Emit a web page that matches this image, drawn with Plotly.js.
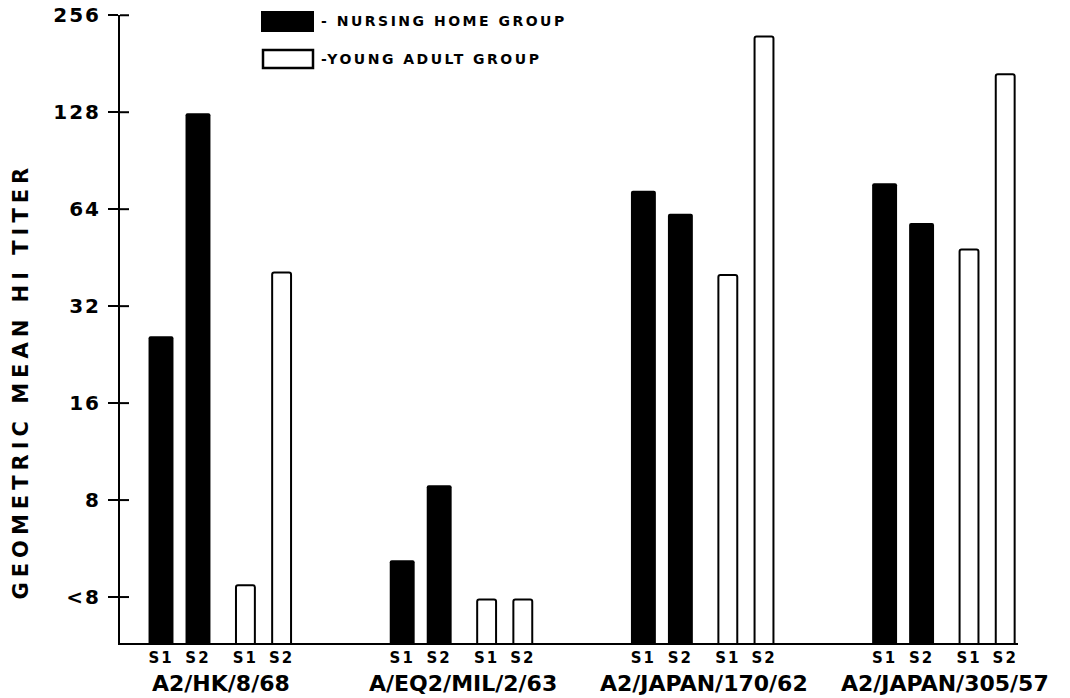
<!DOCTYPE html>
<html>
<head>
<meta charset="utf-8">
<script src="https://cdn.plot.ly/plotly-3.0.1.min.js"></script>
<style>
  html, body { margin: 0; padding: 0; background: #fff; }
  #chart { width: 1070px; height: 698px; }
</style>
</head>
<body>
<div id="chart"></div>
<script>
// ---- data ----
const strains = ['A2/HK/8/68', 'A/EQ2/MIL/2/63', 'A2/JAPAN/170/62', 'A2/JAPAN/305/57'];
const seraLabels = ['S1', 'S2'];
const nursingS1 = [25.8, 5.2, 73, 77];
const nursingS2 = [127, 8.9, 62, 58];
const youngS1 = [4.35, 3.93, 40, 48];
const youngS2 = [40.7, 3.93, 220, 168];
const yTickVals = [4, 8, 16, 32, 64, 128, 256];
const yTickText = ['<8', '8', '16', '32', '64', '128', '256'];
const nursingName = '- NURSING HOME GROUP';
const youngName = '-YOUNG ADULT GROUP';
const yTitle = 'GEOMETRIC MEAN HI TITER';

// ---- layout helpers (positions, not data) ----
const GROUP_SPAN = 6;
const OFF = [0, 0.92, 2.1, 3.0];
const FONT = 'DejaVu Sans, Liberation Sans, sans-serif';

const nX = [], nY = [], yX = [], yY = [];
strains.forEach((s, g) => {
  nX.push(g * GROUP_SPAN + OFF[0], g * GROUP_SPAN + OFF[1]);
  nY.push(nursingS1[g], nursingS2[g]);
  yX.push(g * GROUP_SPAN + OFF[2], g * GROUP_SPAN + OFF[3]);
  yY.push(youngS1[g], youngS2[g]);
});
const tickVals = [], tickText = [];
strains.forEach((s, g) => {
  OFF.forEach((o, i) => { tickVals.push(g * GROUP_SPAN + o); tickText.push(seraLabels[i % 2]); });
});

const traces = [
  { type: 'bar', name: nursingName, x: nX, y: nY, width: 0.62,
    marker: { color: '#000', line: { color: '#000', width: 0 }, cornerradius: 2 },
    hoverinfo: 'skip' },
  { type: 'bar', name: youngName, x: yX, y: yY, width: 0.47,
    marker: { color: '#fff', line: { color: '#000', width: 2 }, cornerradius: 2 },
    hoverinfo: 'skip' }
];

const L = 120, R = 52, T = 15, B = 55, W = 1070, H = 698;
const pw = W - L - R, ph = H - T - B;
const px2x = p => (p - L) / pw;
const py2y = p => (H - B - p) / ph;
const yRange = [Math.log10(2.88), Math.log10(256) + 0.0008];
const v2paper = v => (Math.log10(v) - yRange[0]) / (yRange[1] - yRange[0]);

const shapes = [
  { type: 'rect', xref: 'paper', yref: 'paper', x0: px2x(262), x1: px2x(313), y0: py2y(31), y1: py2y(12),
    fillcolor: '#000', line: { color: '#000', width: 2 } },
  { type: 'rect', xref: 'paper', yref: 'paper', x0: px2x(263), x1: px2x(313), y0: py2y(68), y1: py2y(50),
    fillcolor: '#fff', line: { color: '#000', width: 2.5 } }
];
// inner half of the crossing y ticks
yTickVals.forEach(v => {
  shapes.push({ type: 'line', xref: 'paper', yref: 'paper', x0: 0, x1: 9 / pw,
    y0: v2paper(v), y1: v2paper(v), line: { color: '#000', width: 2 } });
});

const annotations = [
  { text: nursingName, xref: 'paper', yref: 'paper', x: px2x(319), y: py2y(21), xanchor: 'left', yanchor: 'middle',
    align: 'left', showarrow: false, font: { family: FONT, size: 14, color: '#000', weight: 'bold' } },
  { text: youngName, xref: 'paper', yref: 'paper', x: px2x(319), y: py2y(59), xanchor: 'left', yanchor: 'middle',
    align: 'left', showarrow: false, font: { family: FONT, size: 14, color: '#000', weight: 'bold' } },
  { text: yTitle, xref: 'paper', yref: 'paper', x: px2x(21), y: py2y(381), textangle: -90,
    xanchor: 'center', yanchor: 'middle', showarrow: false, font: { family: FONT, size: 21, color: '#000', weight: 'bold' } }
];
strains.forEach((s, g) => {
  annotations.push({ text: s, xref: 'x', yref: 'paper', x: g * GROUP_SPAN + (OFF[0] + OFF[3]) / 2,
    y: py2y(683), xanchor: 'center', yanchor: 'middle', showarrow: false,
    font: { family: FONT, size: 22, color: '#000', weight: 'bold' } });
});

const layout = {
  width: W, height: H,
  margin: { l: L, r: R, t: T, b: B, pad: 0 },
  paper_bgcolor: '#fff', plot_bgcolor: '#fff',
  showlegend: false,
  barmode: 'overlay',
  font: { family: FONT, color: '#000' },
  xaxis: {
    range: [-1.02, -1.02 + pw / 40.2], showgrid: false, zeroline: false,
    showline: true, linecolor: '#000', linewidth: 2,
    tickmode: 'array', tickvals: tickVals, ticktext: tickText, ticks: '',
    tickfont: { family: FONT, size: 15, color: '#000', weight: 'bold' }
  },
  yaxis: {
    type: 'log', range: yRange, showgrid: false, zeroline: false,
    showline: true, linecolor: '#000', linewidth: 2,
    tickmode: 'array', tickvals: yTickVals, ticktext: yTickText,
    ticks: 'outside', ticklen: 10, tickwidth: 2, tickcolor: '#000',
    tickfont: { family: FONT, size: 20, color: '#000', weight: 'bold' }, ticklabelstandoff: 3
  },
  shapes: shapes,
  annotations: annotations
};

Plotly.newPlot('chart', traces, layout, { staticPlot: true, displayModeBar: false }).then(gd => {
  gd.querySelectorAll('.ytick text').forEach(t => { t.style.letterSpacing = '2px'; });
  gd.querySelectorAll('.xtick text').forEach(t => { t.style.letterSpacing = '2px'; });
  const ann = gd.querySelectorAll('.annotation-text');
  if (ann[0]) ann[0].style.letterSpacing = '2.5px';
  if (ann[1]) ann[1].style.letterSpacing = '2.5px';
  if (ann[2]) ann[2].style.letterSpacing = '5px';
});
</script>
</body>
</html>
